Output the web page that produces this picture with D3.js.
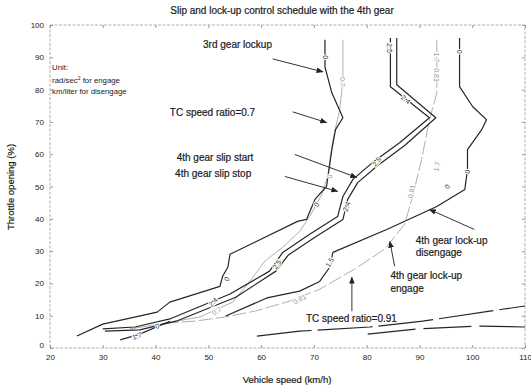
<!DOCTYPE html>
<html><head><meta charset="utf-8">
<script src="https://cdn.jsdelivr.net/npm/d3@7"></script>
<style>
body{margin:0;background:#fff}
svg{font-family:"Liberation Sans",Arial,sans-serif}
</style>
</head><body>
<svg id="chart" width="531" height="387"></svg>
<script>
// Axis ticks
const speedTicks = [20,30,40,50,60,70,80,90,100,110];
const throttleTicks = [0,10,20,30,40,50,60,70,80,90,100];

// Schedule curves: [vehicle speed km/h, throttle %]
const lockup3rd = [[72.1,95.4],[72.1,87],[73.4,79],[75.5,71.3],[74.1,67.6],[73.4,61.4],[72.4,50],[70.2,46],[68.6,39.8],[66.9,39.2],[54.1,29],[53.7,25],[52.7,22.2],[52.2,19.1],[42.7,14.2],[40.3,11.1],[30,7.4],[25.1,3.7]];
const tcRatio07 = [[75.5,95.4],[75.5,83],[74.9,73.8],[73.6,64.5],[72.6,53.1],[71.5,47.5],[69.2,40.7],[67.3,36.1],[64.1,31.2],[60.7,26.9],[57.9,20.7],[54.6,14.2],[48.4,9.6],[40.8,7.4],[35.1,5.9]];
const slipStart = [[84.5,96],[84.5,80.9],[91.9,71.3],[86.3,63.6],[81.1,57.4],[77.4,52.2],[75.5,46.9],[74.5,40.7],[69.2,35.2],[64.1,29.6],[61.6,23.8],[54.1,16.7],[42.7,9],[36.1,6.5],[30,5.9]];
const slipStop = [[85.7,96],[85.7,81.5],[93.1,71.3],[87.2,62.7],[82.1,56.5],[78.3,51.2],[76.4,46],[75.5,39.8],[70.2,34.3],[65.1,28.7],[62.8,23.8],[55.2,15.7],[43.9,8.3],[37,5.6],[30.4,5.2]];
const lockup4th = [[97.6,96],[97.6,80.9],[100.1,74.7],[102.7,70.7],[101.8,67.6],[99.1,61.4],[99.1,55.2],[98.6,49.1],[93.3,43.8],[83.8,36.7],[73.6,29.6],[73,25],[71.1,20.6],[67.3,17.6],[61.1,15.5],[53.3,9.9]];
const tcRatio081 = [[93.3,95.4],[93.3,79],[91.9,70.7],[90.4,58.3],[88.7,46.9],[87.2,38.3],[83.4,30.6],[77.7,24.4],[71.1,18.2],[65.4,14.5],[58.8,11.4],[53.1,9.6],[47.4,8.3],[41.8,7.7]];
const shortEngage = [[33.3,2.5],[37,4.3],[42.7,8.3]];
const tcRatio091a = [[59.2,3.7],[67.3,5.2],[80.6,6.5],[90.6,8.3],[103.3,11.4],[110,13]];
const tcRatio091b = [[80.2,4.3],[89.7,5.9],[101.4,6.8],[110,6.5]];

// Contour value labels: [text, speed, throttle, angle, tone]
const curveLabels = [
  ["0",72.1,90,90,"d"],["0.7",75.5,82.4,90,"g"],["2.5",84.4,92.9,90,"d"],
  ["1.7",93.3,90,90,"g"],["0.81",93.3,84.5,90,"g"],["0",97.6,91.7,90,"d"],
  ["2.4",87.4,76.9,40,"d"],["2.5",81.9,57.7,-50,"d"],["2.4",76.2,43.8,-70,"d"],
  ["0",73,53.1,-80,"g"],["0",70.5,44.4,-60,"d"],["1.7",93.3,56.2,-80,"g"],
  ["0.81",88.5,48.5,-80,"g"],["0",95.3,50,-60,"d"],["0",99.1,54.6,-80,"d"],
  ["1.5",73,26.5,-60,"d"],["2.5",63,25.9,-55,"d"],["0",53.5,21.3,-60,"d"],
  ["2.4",50.9,14.2,-45,"d"],["0.7",51.6,11.4,-30,"g"],["0.81",67.3,15.1,-30,"g"],
  ["1.7",36.5,3.7,-20,"d"],["0",40.3,6.8,-20,"d"]
];

// Annotation text: [text, speed, throttle]
const notes = [
  ["3rd gear lockup",49,92.9],["TC speed ratio=0.7",42.7,71.9],
  ["4th gear slip start",44,58],["4th gear slip stop",43.7,52.8],
  ["4th gear lock-up",89.3,32.1],["disengage",89.3,28.4],
  ["4th gear lock-up",84.5,21.3],["engage",84.5,17.3],
  ["TC speed ratio=0.91",68.5,8]
];
// Annotation arrows: [fromSpeed, fromThrottle, toSpeed, toThrottle]
const arrows = [
  [62.2,89.5,71.7,85.5],[66,73.1,72.4,69.8],[66.4,59.9,78.1,52.8],
  [64.5,53.1,74.5,48.5],[100.4,36.7,91.9,42.9],[85.3,25.3,84.4,33],
  [77.2,11.4,77.2,21.9]
];

const svg = d3.select("#chart");
const x = d3.scaleLinear().domain([20,110]).range([50,525]);
const y = d3.scaleLinear().domain([0,100]).range([348,25]);
const dark = "#262626", grey = "#b0b0b0";

// Frame
svg.append("rect").attr("x",50).attr("y",25).attr("width",475).attr("height",323)
  .attr("fill","none").attr("stroke","#b0b0b0").attr("stroke-width",1)
  .attr("stroke-dasharray","3,1.5");

const xAxis = svg.append("g").attr("transform","translate(0,348)")
  .call(d3.axisBottom(x).tickValues(speedTicks).tickSize(-3).tickPadding(6));
const yAxis = svg.append("g").attr("transform","translate(50,0)")
  .call(d3.axisLeft(y).tickValues(throttleTicks).tickSize(-3).tickPadding(6));
svg.append("g").attr("transform","translate(525,0)")
  .call(d3.axisRight(y).tickValues(throttleTicks).tickSize(-3).tickFormat(""));
svg.append("g").attr("transform","translate(0,25)")
  .call(d3.axisTop(x).tickValues(speedTicks).tickSize(-3).tickFormat(""));
svg.selectAll(".domain").remove();
svg.selectAll(".tick line").attr("stroke","#999");
svg.selectAll(".tick text").attr("fill","#222").style("font-size","8px")
  .style("font-family","'Liberation Sans',Arial,sans-serif");
yAxis.selectAll(".tick text").filter(d=>d===0).attr("dy","-0.1em");

// Titles
const heavy = sel => sel.attr("fill","#1a1a1a").attr("stroke","#1a1a1a").attr("stroke-width",0.2);
heavy(svg.append("text").attr("x",282).attr("y",14).attr("text-anchor","middle")
  .attr("font-size",10).text("Slip and lock-up control schedule with the 4th gear"));
heavy(svg.append("text").attr("x",287).attr("y",383).attr("text-anchor","middle")
  .attr("font-size",9.5).text("Vehicle speed (km/h)"));
heavy(svg.append("text").attr("transform","translate(14,187) rotate(-90)").attr("text-anchor","middle")
  .attr("font-size",9.5).text("Throttle opening (%)"));

// Curves
const line = d3.line().x(d=>x(d[0])).y(d=>y(d[1]));
const curves = [
  [tcRatio07, grey, 1, null],
  [tcRatio081, grey, 1, "14,3"],
  [lockup3rd, dark, 1.2, null],
  [slipStart, dark, 1.2, null],
  [slipStop, dark, 1.2, null],
  [lockup4th, dark, 1.2, null],
  [shortEngage, dark, 1.2, null],
  [tcRatio091a, dark, 1.2, "55,6"],
  [tcRatio091b, dark, 1.2, "48,8"]
];
curves.forEach(([data,col,w,dash])=>{
  svg.append("path").datum(data).attr("d",line).attr("fill","none")
    .attr("stroke",col).attr("stroke-width",w).attr("stroke-linejoin","round")
    .attr("stroke-dasharray",dash);
});

// Contour labels
svg.append("g").selectAll("text").data(curveLabels).join("text")
  .attr("transform",d=>`translate(${x(d[1])},${y(d[2])}) rotate(${d[3]})`)
  .attr("text-anchor","middle").attr("dy","0.35em").attr("font-size",7)
  .attr("fill",d=>d[4]==="g"?"#999":"#333")
  .attr("stroke","#fff").attr("stroke-width",2).attr("paint-order","stroke")
  .text(d=>d[0]);

// Unit note
const unit = svg.append("g").attr("font-size",7.8).attr("fill","#222");
unit.append("text").attr("x",x(20.4)).attr("y",y(86.1)).text("Unit:");
const r = unit.append("text").attr("x",x(20.4)).attr("y",y(82.1));
r.append("tspan").text("rad/sec");
r.append("tspan").attr("dy",-3).attr("font-size",5).text("2");
r.append("tspan").attr("dy",3).text(" for engage");
unit.append("text").attr("x",x(20.4)).attr("y",y(78.7)).text("km/liter for disengage");

// Annotations
heavy(svg.append("g").attr("font-size",10)).selectAll("text").data(notes).join("text")
  .attr("x",d=>x(d[1])).attr("y",d=>y(d[2]))
  .text(d=>d[0]);

svg.append("defs").append("marker").attr("id","head").attr("viewBox","0 0 10 10")
  .attr("refX",9).attr("refY",5).attr("markerWidth",7).attr("markerHeight",7)
  .attr("orient","auto").attr("markerUnits","userSpaceOnUse")
  .append("path").attr("d","M0,1 L10,5 L0,9 z").attr("fill","#222");
svg.append("g").selectAll("line").data(arrows).join("line")
  .attr("x1",d=>x(d[0])).attr("y1",d=>y(d[1])).attr("x2",d=>x(d[2])).attr("y2",d=>y(d[3]))
  .attr("stroke","#333").attr("stroke-width",1).attr("marker-end","url(#head)");
</script>
</body></html>
